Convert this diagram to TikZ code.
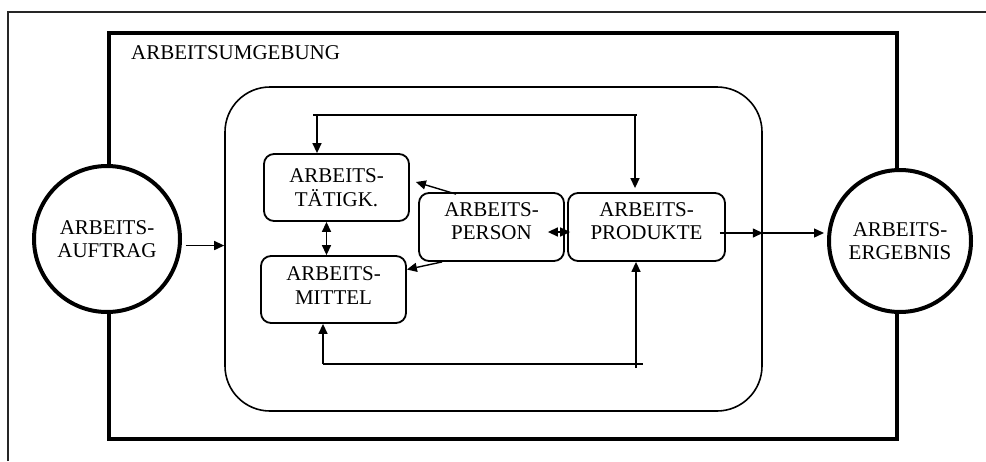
\documentclass[tikz,border=0pt]{standalone}
\usepackage{fontspec}
\setmainfont{Liberation Serif}
\usetikzlibrary{arrows.meta}

\begin{document}
\begin{tikzpicture}[x=1pt, y=-1pt,
        schrift/.style={font=\fontsize{21}{23.5}\selectfont},
        kasten/.style={draw, line width=1.8pt, rounded corners=10pt, align=center, inner sep=0pt, schrift},
        kreis/.style={draw, circle, line width=4pt, fill=white, inner sep=0pt, align=center, schrift},
        linie/.style={line width=1.4pt},
        pfeil/.style={linie, -{Triangle[length=10pt,width=9pt]}},
        doppelpfeil/.style={linie, {Triangle[length=10pt,width=9pt]}-{Triangle[length=10pt,width=9pt]}}]
        \useasboundingbox (0,0) rectangle (986,461);
        % aeusserer Rahmen und Arbeitsumgebung
        \draw[line width=1.2pt, black!85] (8,461) -- (8,12) -- (986,12);
        \draw[line width=3.5pt] (109,33) rectangle (897,439);
        \node[schrift, anchor=west, inner sep=0pt] (umglabel) at (131,53) {ARBEITSUMGEBUNG};
        % Arbeitssystem
        \node[draw, line width=1.6pt, rounded corners=45pt, minimum width=537pt, minimum height=324pt] (sys) at (493.5,249) {};
        \node[kasten, minimum width=145pt, minimum height=67pt] (tat) at (336.5,187.5) {ARBEITS-\\TÄTIGK.};
        \node[kasten, minimum width=145pt, minimum height=67pt, text depth=8pt] (mit) at (333.5,289.5) {ARBEITS-\\MITTEL};
        \node[kasten, minimum width=145pt, minimum height=68pt, text depth=12pt] (per) at (491.5,227) {ARBEITS-\\PERSON};
        \node[kasten, minimum width=157pt, minimum height=68pt, text depth=12pt] (prod) at (646.5,227) {ARBEITS-\\PRODUKTE};
        % Eingang und Ausgang
        \node[kreis, minimum size=146pt] (auf) at (107,239) {ARBEITS-\\AUFTRAG};
        \node[kreis, minimum size=142pt] (erg) at (900,241) {ARBEITS-\\ERGEBNIS};
        % Rueckkopplungen
        \coordinate (obenL) at (317,115);
        \coordinate (obenR) at (635,115);
        \coordinate (untenL) at (323,364);
        \coordinate (untenR) at (643,364);
        \coordinate (untenP) at (636,368);
        \draw[linie] ([xshift=-4pt]obenL) -- ([xshift=2pt]obenR);
        \draw[pfeil] (obenL) -- (obenL |- tat.north);
        \draw[pfeil, shorten >=4pt] (obenR) -- (obenR |- prod.north);
        \draw[linie] (untenL) -- (untenR);
        \draw[pfeil] (untenL) -- (untenL |- mit.south);
        \draw[pfeil] (untenP) -- (untenP |- prod.south);
        % Verbindungen
        \draw[pfeil, shorten <=4pt] (auf.-5) -- (sys.west |- auf.-5);
        \draw[doppelpfeil] ([xshift=-10pt]tat.south) -- ([xshift=-10pt]tat.south |- mit.north);
        \draw[pfeil] ([xshift=38pt,yshift=-2pt]per.north west) -- ([xshift=6pt,yshift=5.5pt]tat.east);
        \draw[pfeil] ([xshift=24pt]per.south west) -- ([yshift=20pt]mit.east);
        \draw[doppelpfeil] ([xshift=-17pt,yshift=-5pt]per.east) -- ([xshift=3pt,yshift=-5pt]prod.west);
        \draw[pfeil] ([xshift=-6pt,yshift=-6pt]prod.east) -- (sys.east |- 0,233);
        \draw[pfeil, shorten >=3pt] (sys.east |- 0,233) -- (erg.west |- 0,233);
\end{tikzpicture}
\end{document}
